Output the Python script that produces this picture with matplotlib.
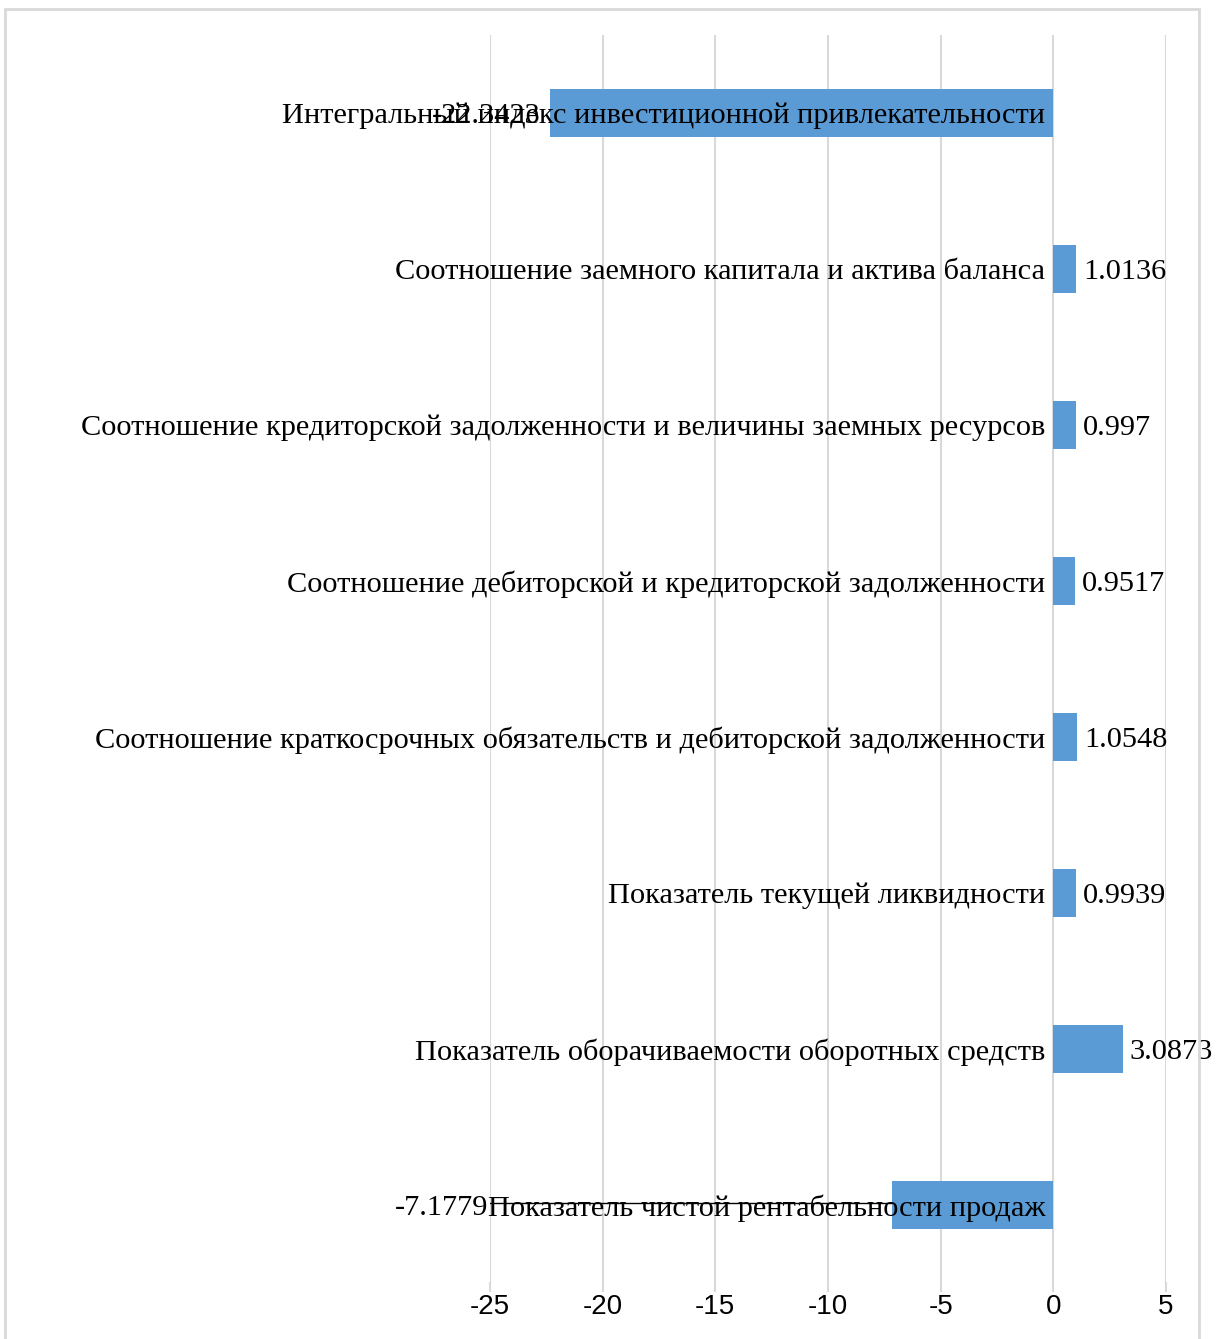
import matplotlib
matplotlib.use("Agg")
import matplotlib.pyplot as plt
from matplotlib.patches import Rectangle
from matplotlib import font_manager

categories = [
    "Интегральный индекс инвестиционной привлекательности",
    "Соотношение заемного капитала и актива баланса",
    "Соотношение кредиторской задолженности и величины заемных ресурсов",
    "Соотношение дебиторской и кредиторской задолженности",
    "Соотношение краткосрочных обязательств и дебиторской задолженности",
    "Показатель текущей ликвидности",
    "Показатель оборачиваемости оборотных средств",
    "Показатель чистой рентабельности продаж",
]
values = [-22.3423, 1.0136, 0.997, 0.9517, 1.0548, 0.9939, 3.0873, -7.1779]
value_labels = ["-22.3423", "1.0136", "0.997", "0.9517", "1.0548", "0.9939", "3.0873", "-7.1779"]
x_ticks = [-25, -20, -15, -10, -5, 0, 5]
x_tick_labels = ["-25", "-20", "-15", "-10", "-5", "0", "5"]

W, H = 1225, 1339
fig = plt.figure(figsize=(W / 100, H / 100), dpi=100)
fig.patch.set_facecolor("white")

# chart border
fig.add_artist(Rectangle((4.5 / W, -0.01), (1198.5 - 4.5) / W, 1 - 9 / H + 0.01,
                         transform=fig.transFigure, fill=False,
                         edgecolor="#D9D9D9", linewidth=2))

left, right = 490 / W, 1166 / W
top, bottom = 1 - 35 / H, 1 - 1283 / H
ax = fig.add_axes([left, bottom, right - left, top - bottom])

serif = ["Liberation Serif", "DejaVu Serif"]
avail = {f.name for f in font_manager.fontManager.ttflist}
narrow = [n for n in ["Liberation Sans Narrow", "DejaVu Sans Condensed", "Liberation Sans"] if n in avail] or ["DejaVu Sans"]

ypos = list(range(len(categories)))
ax.barh(ypos, values, height=0.31, color="#5B9BD5", zorder=2)
ax.set_xlim(-25, 5)
ax.set_ylim(len(categories) - 0.5, -0.5)

for s in ax.spines.values():
    s.set_visible(False)
ax.set_yticks([])
ax.set_xticks(x_ticks)
ax.set_xticklabels(x_tick_labels, family=narrow, fontsize=20, fontstretch="condensed")
ax.tick_params(axis="x", length=0, pad=8)
ax.grid(axis="x", color="#D9D9D9", linewidth=1.5, zorder=0)
ax.set_axisbelow(True)
for t in x_ticks:
    ax.plot([t, t], [len(categories) - 0.5, len(categories) - 0.45], color="#D9D9D9",
            linewidth=1.5, clip_on=False, zorder=0)

FS = 21.9
# category labels next to zero
for y, c in zip(ypos, categories):
    ax.annotate(c, xy=(0, y), xytext=(-6, -2), textcoords="offset points",
                ha="right", va="center", family=serif, fontsize=FS, color="black", zorder=4)

# data labels
for y, v, lab in zip(ypos, values, value_labels):
    if v >= 0:
        ax.annotate(lab, xy=(v, y), xytext=(5, -2), textcoords="offset points",
                    ha="left", va="center", family=serif, fontsize=FS, color="black", zorder=4)
    elif v < -20:
        ax.annotate(lab, xy=(v, y), xytext=(-7, -2), textcoords="offset points",
                    ha="right", va="center", family=serif, fontsize=FS, color="black", zorder=4)
    else:
        ax.annotate(lab, xy=(-25, y), xytext=(-1, -2), textcoords="offset points",
                    ha="right", va="center", family=serif, fontsize=FS, color="black", zorder=4)
        ax.plot([-25, v], [y - 0.01, y - 0.01], color="black", linewidth=1, zorder=3)

fig.savefig("out.png", dpi=100, facecolor="white")
